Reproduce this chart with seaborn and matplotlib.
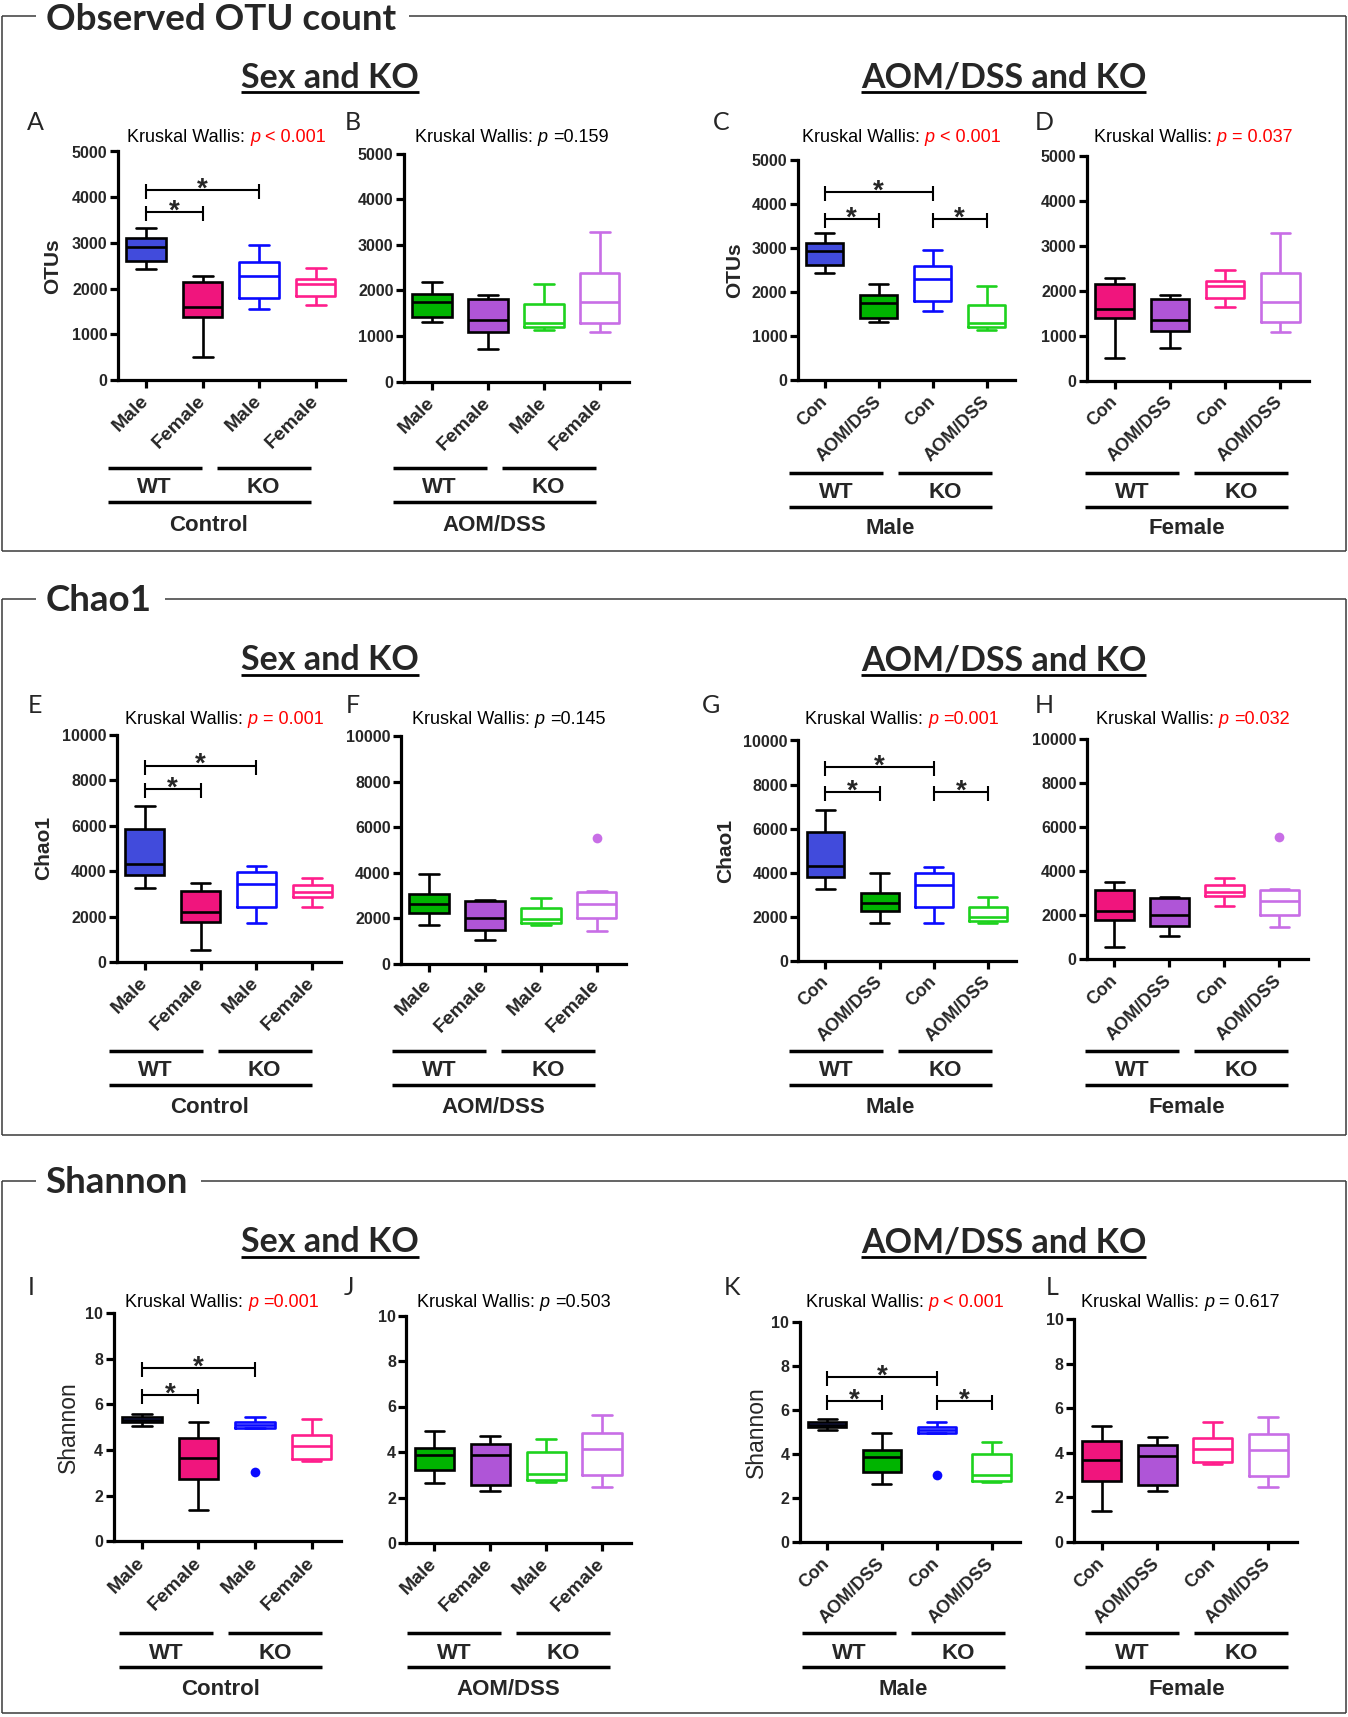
import matplotlib
matplotlib.use("Agg")
import matplotlib.pyplot as plt
from matplotlib.lines import Line2D
import pandas as pd
import seaborn as sns

W, H, DPI = 1348, 1717, 100

# groups: genotype / sex / treatment
groups = ["WT Male Con", "WT Female Con", "KO Male Con", "KO Female Con",
          "WT Male AOM", "WT Female AOM", "KO Male AOM", "KO Female AOM"]
group_colors = ["#414BDC", "#F0157D", "#0A0AFF", "#FF1E8C",
                "#00B400", "#AF55D7", "#1ED21E", "#C86EE6"]

# observed OTU count: whisker low, Q1, median, Q3, whisker high
otu_low = [2420, 510, 1555, 1635, 1310, 720, 1135, 1080]
otu_q1 = [2600, 1385, 1790, 1840, 1410, 1100, 1200, 1295]
otu_median = [2920, 1595, 2285, 2100, 1758, 1360, 1295, 1758]
otu_q3 = [3115, 2145, 2590, 2212, 1922, 1812, 1700, 2390]
otu_high = [3330, 2275, 2955, 2460, 2178, 1895, 2135, 3285]

# Chao1
chao1_low = [3260, 530, 1710, 2420, 1690, 1060, 1690, 1450]
chao1_q1 = [3820, 1770, 2420, 2880, 2250, 1500, 1820, 2020]
chao1_median = [4290, 2200, 3440, 3060, 2630, 2020, 1990, 2640]
chao1_q3 = [5860, 3140, 3970, 3380, 3050, 2750, 2450, 3150]
chao1_high = [6860, 3490, 4240, 3680, 3960, 2820, 2890, 3190]
chao1_outlier_group = ["KO Female AOM"]
chao1_outlier_value = [5530]

# Shannon
shannon_low = [5.07, 1.37, 4.95, 3.51, 2.62, 2.27, 2.70, 2.46]
shannon_q1 = [5.22, 2.73, 4.95, 3.59, 3.19, 2.54, 2.75, 2.97]
shannon_median = [5.32, 3.67, 5.10, 4.16, 3.86, 3.86, 3.05, 4.12]
shannon_q3 = [5.43, 4.54, 5.22, 4.65, 4.18, 4.36, 3.98, 4.85]
shannon_high = [5.58, 5.22, 5.43, 5.37, 4.93, 4.70, 4.55, 5.63]
shannon_outlier_group = ["KO Male Con"]
shannon_outlier_value = [3.06]

# panel orders and labels
sex_control_order = ["WT Male Con", "WT Female Con", "KO Male Con", "KO Female Con"]
sex_aom_order = ["WT Male AOM", "WT Female AOM", "KO Male AOM", "KO Female AOM"]
male_order = ["WT Male Con", "WT Male AOM", "KO Male Con", "KO Male AOM"]
female_order = ["WT Female Con", "WT Female AOM", "KO Female Con", "KO Female AOM"]
sex_ticklabels = ["Male", "Female", "Male", "Female"]
treat_ticklabels = ["Con", "AOM/DSS", "Con", "AOM/DSS"]
panel_orders = [sex_control_order, sex_aom_order, male_order, female_order]
panel_ticklabels = [sex_ticklabels, sex_ticklabels, treat_ticklabels, treat_ticklabels]
panel_bottom_labels = ["Control", "AOM/DSS", "Male", "Female"]

section_titles = ["Observed OTU count", "Chao1", "Shannon"]
section_ylabels = ["OTUs", "Chao1", "Shannon"]
section_ymax = [5000, 10000, 10]
section_ystep = [1000, 2000, 2]
panel_letters = [["A", "B", "C", "D"], ["E", "F", "G", "H"], ["I", "J", "K", "L"]]
kruskal_p = [["< 0.001", "=0.159", "< 0.001", "= 0.037"],
             ["= 0.001", "=0.145", "=0.001", "=0.032"],
             ["=0.001", "=0.503", "< 0.001", "= 0.617"]]
kruskal_sig = [[True, False, True, True],
               [True, False, True, True],
               [True, False, True, False]]
# significance bracket heights (lower, upper) for panels in columns 1 and 3
bracket_levels = [[(3680, 4150), (3650, 4270)],
                  [(7600, 8640), (7650, 8800)],
                  [(6.4, 7.6), (6.4, 7.5)]]


def five_number_frame(low, q1, med, q3, high):
    rows = []
    for i, g in enumerate(groups):
        for v in (low[i], q1[i], med[i], q3[i], high[i]):
            rows.append({"group": g, "value": v})
    return pd.DataFrame(rows)


metric_frames = [
    five_number_frame(otu_low, otu_q1, otu_median, otu_q3, otu_high),
    five_number_frame(chao1_low, chao1_q1, chao1_median, chao1_q3, chao1_high),
    five_number_frame(shannon_low, shannon_q1, shannon_median, shannon_q3, shannon_high),
]
outlier_frames = [
    pd.DataFrame({"group": [], "value": []}),
    pd.DataFrame({"group": chao1_outlier_group, "value": chao1_outlier_value}),
    pd.DataFrame({"group": shannon_outlier_group, "value": shannon_outlier_value}),
]
color_of = dict(zip(groups, group_colors))

# ---- layout in pixels ----
AX_RECTS = [
    [(118, 151.5, 345, 380), (404, 153.7, 629, 381.7), (797.6, 159.6, 1014.6, 380), (1087, 156, 1309, 380.6)],
    [(117, 734.6, 341, 962), (401, 736, 626, 964), (798.4, 740.5, 1016, 960.6), (1087, 738.8, 1308, 959)],
    [(113.6, 1313, 341, 1541.4), (406.4, 1315.5, 631, 1543), (799.7, 1321.5, 1020, 1542), (1074, 1319.2, 1297, 1542)],
]
LETTER_X = [[27, 345, 713, 1035], [27.5, 346, 702, 1035], [27.5, 344, 724, 1046]]
GROUP_X = [[107.5, 392.5, 789, 1085], [108.5, 392, 789, 1085], [118.8, 407, 802, 1085]]
YLABEL_X = [[53, 735], [44, 726], [68, 756]]
LETTER_BASE = [130, 712.7, 1294.5]
KRUSKAL_BASE = [142, 724.3, 1307]
GROUP_Y = [[(468, 493, 502, 530.5), (473, 498, 507, 534)],
           [(1051, 1075.5, 1085, 1112.8), (1051, 1075.5, 1085, 1112.8)],
           [(1633.3, 1658.5, 1666.7, 1694.6), (1633.3, 1658.5, 1666.7, 1694.6)]]
TITLE_LINE = [16.5, 598.6, 1181]
TITLE_BASE = [30, 611, 1193]
FRAME_BOTTOM = [551, 1135, 1713]
SUB_BASE = [87.7, 670, 1252]
FRAME_L, FRAME_R = 2, 1345.5

sns.set_theme(style="ticks")
plt.rcParams["font.family"] = ["Liberation Sans", "DejaVu Sans"]

fig = plt.figure(figsize=(W / DPI, H / DPI), dpi=DPI)
fig.patch.set_facecolor("white")
renderer = fig.canvas.get_renderer()


def fx(x):
    return x / W


def fy(y):
    return 1 - y / H


def hline(x0, x1, y, lw, color="black"):
    fig.add_artist(Line2D([fx(x0), fx(x1)], [fy(y), fy(y)], transform=fig.transFigure,
                          lw=lw, color=color, solid_capstyle="butt"))


def vline(x, y0, y1, lw, color="black"):
    fig.add_artist(Line2D([fx(x), fx(x)], [fy(y0), fy(y1)], transform=fig.transFigure,
                          lw=lw, color=color, solid_capstyle="butt"))


def rich_line(cx, baseline, parts, size):
    gap = 0.278 * size * DPI / 72
    arts = [fig.text(0, fy(baseline), s, color=c, style=st, fontsize=size, va="baseline")
            for s, c, st in parts]
    widths = [a.get_window_extent(renderer).width for a in arts]
    x = cx - (sum(widths) + gap * (len(arts) - 1)) / 2
    for a, w in zip(arts, widths):
        a.set_x(fx(x))
        x += w + gap


for s in range(3):
    # section frame with title
    t = fig.text(fx(45.5), fy(TITLE_BASE[s]), section_titles[s], fontfamily="Lato",
                 fontweight="bold", fontsize=26.5, va="baseline")
    bb = t.get_window_extent(renderer)
    fc = "#3a3a3a"
    hline(FRAME_L, bb.x0 - 10, TITLE_LINE[s], 1.1, fc)
    hline(bb.x1 + 13, FRAME_R, TITLE_LINE[s], 1.1, fc)
    vline(FRAME_L, TITLE_LINE[s], FRAME_BOTTOM[s], 1.1, fc)
    vline(FRAME_R, TITLE_LINE[s], FRAME_BOTTOM[s], 1.1, fc)
    hline(FRAME_L, FRAME_R, FRAME_BOTTOM[s], 1.1, fc)

    for cx, sub in ((330, "Sex and KO"), (1003.6, "AOM/DSS and KO")):
        st = fig.text(fx(cx), fy(SUB_BASE[s]), sub, ha="center", va="baseline",
                      fontfamily="Lato", fontweight="bold", fontsize=24.5)
        sb = st.get_window_extent(renderer)
        hline(sb.x0, sb.x1, SUB_BASE[s] + 4.5, 2)

    df = metric_frames[s]
    out = outlier_frames[s]
    ymax = section_ymax[s]

    for p in range(4):
        l, tp, r, b = AX_RECTS[s][p]
        ax = fig.add_axes([fx(l), fy(b), (r - l) / W, (b - tp) / H])
        order = panel_orders[p]
        wt = [g for g in order if g.startswith("WT")]
        ko = [g for g in order if g.startswith("KO")]

        sns.boxplot(data=df[df["group"].isin(wt)], x="group", y="value", hue="group",
                    order=order, palette={g: color_of[g] for g in wt}, saturation=1,
                    width=0.7, whis=(0, 100), linecolor="black", linewidth=1.9,
                    legend=False, ax=ax)
        sns.boxplot(data=df[df["group"].isin(ko)], x="group", y="value", hue="group",
                    order=order, palette={g: color_of[g] for g in ko}, saturation=1,
                    width=0.7, whis=(0, 100), fill=False, linewidth=1.9,
                    legend=False, ax=ax)
        po = out[out["group"].isin(order)]
        if len(po):
            sns.stripplot(data=po, x="group", y="value", hue="group", order=order,
                          palette={g: color_of[g] for g in po["group"]}, jitter=False,
                          size=7, linewidth=0, legend=False, ax=ax)

        ax.set_xlim(-0.5, 3.52)
        ax.set_ylim(0, ymax)
        ax.set_xlabel("")
        ax.set_ylabel("")
        ax.set_facecolor("none")
        for side in ("top", "right"):
            ax.spines[side].set_visible(False)
        for side in ("left", "bottom"):
            ax.spines[side].set_linewidth(2.3)
            ax.spines[side].set_color("black")
        ax.tick_params(axis="both", width=2.3, length=5.5, color="black", pad=2)
        yt = list(range(0, int(ymax) + 1, section_ystep[s]))
        ax.set_yticks(yt)
        ax.set_yticklabels([str(v) for v in yt], fontsize=11.5, fontweight="bold")
        ax.set_xticks(range(4))
        xsize = 14 if p < 2 else 13
        ax.set_xticklabels(panel_ticklabels[p], rotation=45, ha="right", va="center",
                           rotation_mode="anchor", fontsize=xsize, fontweight="bold")
        ax.tick_params(axis="x", pad=8)

        px2d = ymax / (b - tp)
        if p in (0, 2):
            lo, hi = bracket_levels[s][p // 2]
            pairs = [(0, 1, lo), (0, 2, hi)] + ([(2, 3, lo)] if p == 2 else [])
            for i, j, yv in pairs:
                ax.plot([i, j], [yv, yv], color="black", lw=1.5, clip_on=False,
                        solid_capstyle="butt")
                for xv in (i, j):
                    ax.plot([xv, xv], [yv - 9 * px2d, yv + 6 * px2d], color="black",
                            lw=1.5, clip_on=False, solid_capstyle="butt")
                ax.text((i + j) / 2, yv - 6.5 * px2d, "*", ha="center", va="baseline",
                        fontsize=20, fontweight="bold", clip_on=False)
            # y label
            yl_w = "normal" if s == 2 else "bold"
            yl_size = 16.5 if s == 2 else 15
            fig.text(fx(YLABEL_X[s][p // 2]), fy((tp + b) / 2), section_ylabels[s],
                     rotation=90, ha="center", va="center", fontsize=yl_size,
                     fontweight=yl_w)

        # panel letter
        fig.text(fx(LETTER_X[s][p]), fy(LETTER_BASE[s]), panel_letters[s][p],
                 fontfamily="Lato", fontsize=18, va="baseline")

        # Kruskal Wallis header
        col = "#FF0000" if kruskal_sig[s][p] else "black"
        rich_line((l + r) / 2 - 5, KRUSKAL_BASE[s],
                  [("Kruskal Wallis:", "black", "normal"), ("p", col, "italic"),
                   (kruskal_p[s][p], col, "normal")], 13)

        # genotype / condition group lines
        gx = GROUP_X[s][p]
        y1, ytext, y2, ylab = GROUP_Y[s][0 if p < 2 else 1]
        hline(gx, gx + 94, y1, 2.5)
        hline(gx + 109, gx + 203, y1, 2.5)
        hline(gx, gx + 203, y2, 2.5)
        fig.text(fx(gx + 47), fy(ytext), "WT", ha="center", va="baseline",
                 fontsize=16, fontweight="bold")
        fig.text(fx(gx + 156), fy(ytext), "KO", ha="center", va="baseline",
                 fontsize=16, fontweight="bold")
        fig.text(fx(gx + 101.5), fy(ylab), panel_bottom_labels[p], ha="center",
                 va="baseline", fontsize=16, fontweight="bold")

fig.savefig("out.png", dpi=DPI, facecolor="white")
